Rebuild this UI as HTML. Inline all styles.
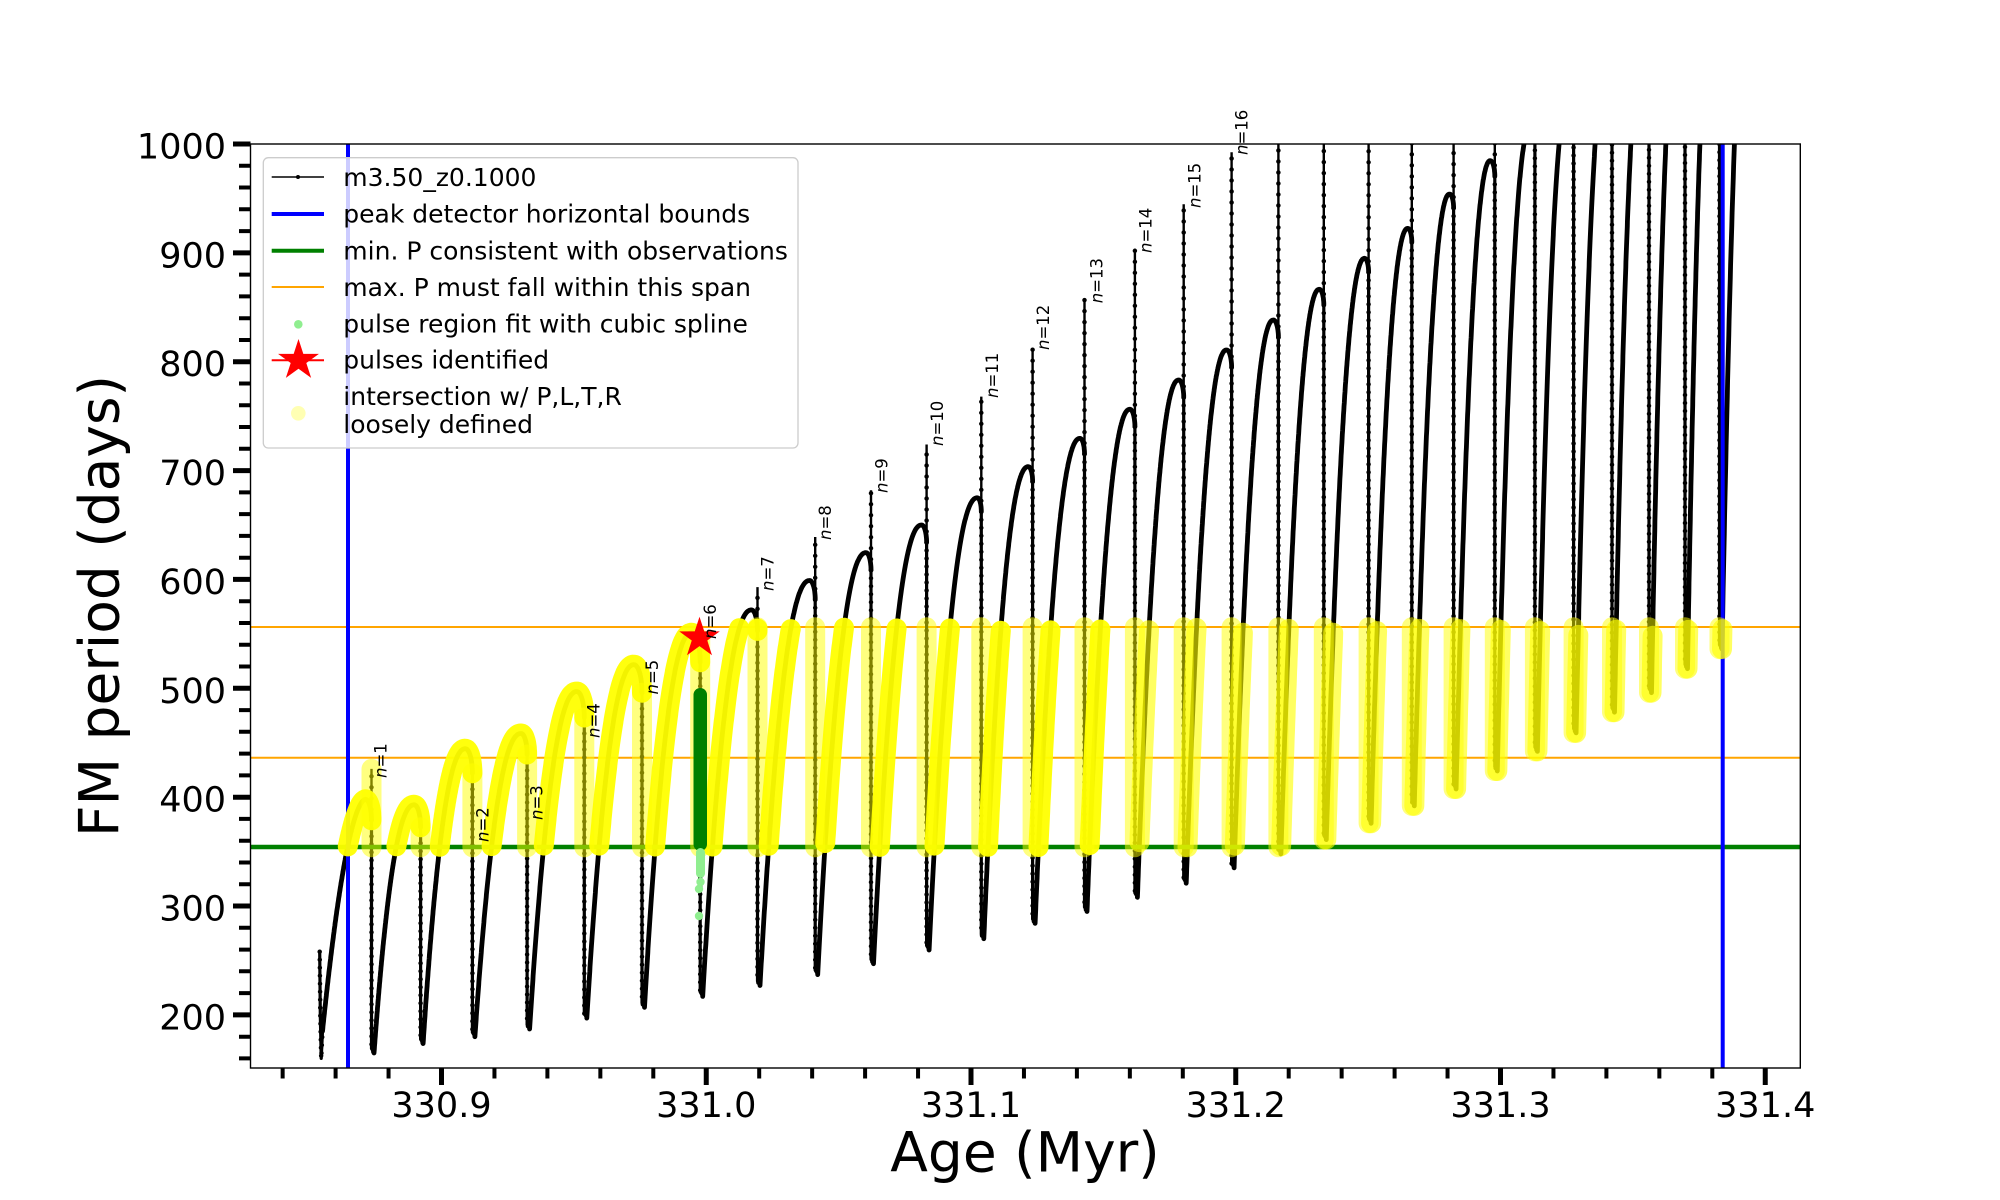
<!DOCTYPE html>
<html>
<head>
<meta charset="utf-8">
<style>
html,body{margin:0;padding:0;background:#fff;}
svg{display:block;}
</style>
</head>
<body>
<svg id="plot" width="2000" height="1200" xmlns="http://www.w3.org/2000/svg" font-family="'DejaVu Sans','Liberation Sans',sans-serif">
<defs>
<clipPath id="ax"><rect x="250.5" y="144" width="1549.8" height="924"/></clipPath>
</defs>
<rect x="0" y="0" width="2000" height="1200" fill="#fff"/>
<g clip-path="url(#ax)">
  <line x1="250" y1="627" x2="1801" y2="627" stroke="#ffa500" stroke-width="2"/>
  <line x1="250" y1="757.8" x2="1801" y2="757.8" stroke="#ffa500" stroke-width="2"/>
  <g id="gblack"></g>
  <line x1="250" y1="847" x2="1801" y2="847" stroke="#008000" stroke-width="4.5"/>
  <line x1="348" y1="140" x2="348" y2="1070" stroke="#0000ff" stroke-width="4"/>
  <line x1="1722.7" y1="140" x2="1722.7" y2="1070" stroke="#0000ff" stroke-width="4"/>
  <g id="gyel"></g>
  <rect x="693.5" y="688" width="13.5" height="163" rx="6.7" fill="#008000"/>
  <rect x="696" y="848" width="9" height="30" rx="4.5" fill="#90ee90"/>
  <circle cx="700.5" cy="882" r="4.2" fill="#90ee90"/>
  <circle cx="699" cy="889" r="4.2" fill="#90ee90"/>
  <circle cx="699" cy="916" r="4.2" fill="#90ee90"/>
  <polygon transform="translate(699.5,638)" fill="#ff0000" points="0,-21.3 4.78,-6.59 20.26,-6.58 7.74,2.52 12.52,17.23 0,8.14 -12.52,17.23 -7.74,2.52 -20.26,-6.58 -4.78,-6.59"/>
</g>

<g font-size="16.5" fill="#000">
  <text transform="translate(386.5,778) rotate(-90)"><tspan font-style="italic">n</tspan>=1</text>
  <text transform="translate(488.5,842) rotate(-90)"><tspan font-style="italic">n</tspan>=2</text>
  <text transform="translate(542.5,820) rotate(-90)"><tspan font-style="italic">n</tspan>=3</text>
  <text transform="translate(599.5,738) rotate(-90)"><tspan font-style="italic">n</tspan>=4</text>
  <text transform="translate(658,694.5) rotate(-90)"><tspan font-style="italic">n</tspan>=5</text>
  <text transform="translate(716.2,639) rotate(-90)"><tspan font-style="italic">n</tspan>=6</text>
  <text transform="translate(773.5,591) rotate(-90)"><tspan font-style="italic">n</tspan>=7</text>
  <text transform="translate(831,540) rotate(-90)"><tspan font-style="italic">n</tspan>=8</text>
  <text transform="translate(887.5,493) rotate(-90)"><tspan font-style="italic">n</tspan>=9</text>
  <text transform="translate(943,446) rotate(-90)"><tspan font-style="italic">n</tspan>=10</text>
  <text transform="translate(997.8,398) rotate(-90)"><tspan font-style="italic">n</tspan>=11</text>
  <text transform="translate(1049.2,350) rotate(-90)"><tspan font-style="italic">n</tspan>=12</text>
  <text transform="translate(1102.5,303.3) rotate(-90)"><tspan font-style="italic">n</tspan>=13</text>
  <text transform="translate(1151.5,253) rotate(-90)"><tspan font-style="italic">n</tspan>=14</text>
  <text transform="translate(1200.5,208) rotate(-90)"><tspan font-style="italic">n</tspan>=15</text>
  <text transform="translate(1247.5,155) rotate(-90)"><tspan font-style="italic">n</tspan>=16</text>
</g>

<!-- axes frame -->
<rect x="250.5" y="144" width="1549.8" height="924" fill="none" stroke="#000" stroke-width="1.4"/>

<!-- y ticks -->
<path stroke="#000" stroke-width="5" fill="none" d="M233,144H250.5M233,252.9H250.5M233,361.7H250.5M233,470.6H250.5M233,579.4H250.5M233,688.3H250.5M233,797.2H250.5M233,906H250.5M233,1014.9H250.5"/>
<path stroke="#000" stroke-width="4" fill="none" d="M239,1058.4H250.5M239,1036.7H250.5M239,993.1H250.5M239,971.3H250.5M239,949.6H250.5M239,927.8H250.5M239,884.3H250.5M239,862.5H250.5M239,840.7H250.5M239,818.9H250.5M239,775.4H250.5M239,753.6H250.5M239,731.8H250.5M239,710.1H250.5M239,666.5H250.5M239,644.8H250.5M239,623H250.5M239,601.2H250.5M239,557.7H250.5M239,535.9H250.5M239,514.1H250.5M239,492.4H250.5M239,448.8H250.5M239,427H250.5M239,405.3H250.5M239,383.5H250.5M239,340H250.5M239,318.2H250.5M239,296.4H250.5M239,274.6H250.5M239,231.1H250.5M239,209.3H250.5M239,187.5H250.5M239,165.8H250.5"/>
<!-- x ticks -->
<path stroke="#000" stroke-width="5" fill="none" d="M441.5,1068V1085M706.25,1068V1085M971,1068V1085M1235.75,1068V1085M1500.5,1068V1085M1765.25,1068V1085"/>
<path stroke="#000" stroke-width="4" fill="none" d="M282.65,1068V1078.5M335.6,1068V1078.5M388.55,1068V1078.5M494.45,1068V1078.5M547.4,1068V1078.5M600.35,1068V1078.5M653.3,1068V1078.5M759.2,1068V1078.5M812.15,1068V1078.5M865.1,1068V1078.5M918.05,1068V1078.5M1023.95,1068V1078.5M1076.9,1068V1078.5M1129.85,1068V1078.5M1182.8,1068V1078.5M1288.7,1068V1078.5M1341.65,1068V1078.5M1394.6,1068V1078.5M1447.55,1068V1078.5M1553.45,1068V1078.5M1606.4,1068V1078.5M1659.35,1068V1078.5M1712.3,1068V1078.5"/>

<g font-size="35" fill="#000" text-anchor="end">
  <text x="226" y="158.5">1000</text>
  <text x="226" y="267.4">900</text>
  <text x="226" y="376.2">800</text>
  <text x="226" y="485.1">700</text>
  <text x="226" y="593.9">600</text>
  <text x="226" y="702.8">500</text>
  <text x="226" y="811.7">400</text>
  <text x="226" y="920.5">300</text>
  <text x="226" y="1029.4">200</text>
</g>
<g font-size="35" fill="#000" text-anchor="middle">
  <text x="441.5" y="1117">330.9</text>
  <text x="706.25" y="1117">331.0</text>
  <text x="971" y="1117">331.1</text>
  <text x="1235.75" y="1117">331.2</text>
  <text x="1500.5" y="1117">331.3</text>
  <text x="1765.25" y="1117">331.4</text>
</g>
<text x="1025" y="1171.7" font-size="55" text-anchor="middle" fill="#000">Age (Myr)</text>
<text transform="translate(118.3,606) rotate(-90)" font-size="55" text-anchor="middle" fill="#000">FM period (days)</text>

<!-- legend -->
<rect x="263.3" y="157.7" width="534.7" height="290.3" rx="5" fill="#fff" fill-opacity="0.8" stroke="#cccccc" stroke-width="1.3"/>
<line x1="271.7" y1="177" x2="324" y2="177" stroke="#000" stroke-width="1.6"/>
<circle cx="298" cy="177" r="2" fill="#000"/>
<line x1="271.7" y1="214" x2="324" y2="214" stroke="#0000ff" stroke-width="4"/>
<line x1="271.7" y1="250.7" x2="324" y2="250.7" stroke="#008000" stroke-width="4"/>
<line x1="271.7" y1="287" x2="324" y2="287" stroke="#ffa500" stroke-width="2"/>
<circle cx="298.3" cy="324.3" r="4.3" fill="#90ee90"/>
<line x1="271.7" y1="360.3" x2="324" y2="360.3" stroke="#ff0000" stroke-width="2"/>
<polygon transform="translate(298.5,360.5)" fill="#ff0000" points="0,-21.5 4.82,-6.65 20.45,-6.64 7.81,2.54 12.64,17.39 0,8.21 -12.64,17.39 -7.81,2.54 -20.45,-6.64 -4.82,-6.65"/>
<circle cx="298.3" cy="413.3" r="7.3" fill="#ffffb3"/>
<g font-size="25" fill="#000">
  <text x="343.3" y="186">m3.50_z0.1000</text>
  <text x="343.3" y="222.5">peak detector horizontal bounds</text>
  <text x="343.3" y="259.5">min. P consistent with observations</text>
  <text x="343.3" y="296">max. P must fall within this span</text>
  <text x="343.3" y="332.5">pulse region fit with cubic spline</text>
  <text x="343.3" y="368.5">pulses identified</text>
  <text x="343.3" y="405">intersection w/ P,L,T,R</text>
  <text x="343.3" y="433">loosely defined</text>
</g>
</svg>

<script>
(function(){
var NS='http://www.w3.org/2000/svg';
function Y(v){return 144+(1000-v)*1.0886;}
function f(n){return n.toFixed(1);}
var P=[371.5,420.6,472.4,527.1,584.3,642.0,700.2,757.5,815.2,871.0,926.6,981.3,1032.6,1084.5,1134.9,1183.7,1231.6,1278.4,1323.8,1368.6,1411.8,1453.6,1494.8,1534.9,1573.6,1612.0,1649.0,1685.0,1719.5];
var PK=[398,393,444.5,458.5,497,521.7,551,572,599,624.6,650,675,703.6,729.6,756.3,783.2,810.8,838.3,866.5,895,922.5,954,984.7,1016,1048,1080,1112,1144,1176];
var W=[6,6.4,7,6,7.4,8,8.4,6,5.5,5,5,4,4.3,4.5,5,5,5,5,4.5,4,4,4,4.5,4.5,4.5,4.5,4.5,4.5,4.5];
var MN=[165,173.6,180,187,197,207,217,227,237,247,259.6,270,284,295,308,321,335,348,361,376,392,407.5,424,442,459,478,496,518,536];
var SP=[426,0,359,379,454,494,545,593,639,682,724,768,812.3,856.7,902.6,944.6,992.4,1150,1150,1150,1150,1150,1150,1150,1150,1150,1150,1150,1150];
function mk(tag,attrs,parent){var e=document.createElementNS(NS,tag);for(var k in attrs)e.setAttribute(k,attrs[k]);parent.appendChild(e);return e;}
function pathD(pts){
  if(pts.length===1){return 'M'+f(pts[0][0])+','+f(Y(pts[0][1]))+'L'+f(pts[0][0]+0.01)+','+f(Y(pts[0][1]));}
  var s='';for(var i=0;i<pts.length;i++){s+=(i?'L':'M')+f(pts[i][0])+','+f(Y(pts[i][1]));}return s;}
function runs(pts){var out=[],cur=[];for(var i=0;i<pts.length;i++){var p=pts[i];if(p[1]>=354&&p[1]<=556)cur.push(p);else{if(cur.length)out.push(cur);cur=[];}}if(cur.length)out.push(cur);return out;}
var thick='',thin='',spikes='',ySolid='',ySemi='',yCol='';
thin+='M319.7,'+f(Y(258))+'L320.3,'+f(Y(200))+'L321.2,'+f(Y(160))+'L322.5,'+f(Y(185));
for(var i=0;i<P.length;i++){
  var x0=(i===0)?322.5:P[i-1]+2.5, v0=(i===0)?185:MN[i-1];
  var xk=P[i]-W[i], vk=PK[i];
  var p=(i===0)?1.8:2.2;
  var pts=[],N=160;
  for(var k=0;k<=N;k++){var t=k/N;pts.push([x0+(xk-x0)*t, v0+(vk-v0)*(1-Math.pow(1-t,p))]);}
  var capV=3.5*W[i]/1.0886;
  for(var k2=1;k2<=14;k2++){var th=k2/14*Math.PI/2;pts.push([xk+W[i]*Math.sin(th), vk-capV*(1-Math.cos(th))]);}
  thick+=pathD(pts);
  var vtop=vk-capV;
  thin+='M'+f(P[i])+','+f(Y(vtop))+'L'+f(P[i])+','+f(Y(MN[i]+4))+'L'+f(P[i]+2.5)+','+f(Y(MN[i]));
  if(SP[i]>vtop) spikes+='M'+f(P[i])+','+f(Y(vtop))+'L'+f(P[i])+','+f(Y(SP[i]));
  var rr=runs(pts);
  for(var j=0;j<rr.length;j++){ if(i<=14) ySolid+=pathD(rr[j]); else ySemi+=pathD(rr[j]); }
  var lo=Math.max(354,MN[i]), hi=Math.min(556,Math.max(vtop,SP[i]));
  if(hi>lo) yCol+='M'+f(P[i])+','+f(Y(hi))+'L'+f(P[i])+','+f(Y(lo));
}
var fx0=P[P.length-1]+2.5, fv0=MN[MN.length-1], fxk=1752, fvk=1208, fpts=[];
for(var k3=0;k3<=80;k3++){var t3=k3/80;var vv=fv0+(fvk-fv0)*(1-Math.pow(1-t3,2.2));fpts.push([fx0+(fxk-fx0)*t3,vv]);if(vv>1010)break;}
thick+=pathD(fpts);
var fr=runs(fpts);for(var j2=0;j2<fr.length;j2++) ySemi+=pathD(fr[j2]);

var gb=document.getElementById('gblack');
mk('path',{d:thick,stroke:'#000','stroke-width':'4.8',fill:'none','stroke-linejoin':'round','stroke-linecap':'round'},gb);
mk('path',{d:thin,stroke:'#000','stroke-width':'3.2',fill:'none','stroke-linejoin':'round'},gb);
mk('path',{d:thin,stroke:'#000','stroke-width':'4.5',fill:'none','stroke-linecap':'round','stroke-dasharray':'0 8'},gb);
mk('path',{d:spikes,stroke:'#000','stroke-width':'2.4',fill:'none'},gb);
mk('path',{d:spikes,stroke:'#000','stroke-width':'4.5',fill:'none','stroke-linecap':'round','stroke-dasharray':'0 11'},gb);
var gy=document.getElementById('gyel');
mk('path',{d:yCol,stroke:'#ffff00','stroke-width':'20',fill:'none','stroke-linecap':'round','stroke-opacity':'0.5'},gy);
mk('path',{d:ySemi,stroke:'#ffff00','stroke-width':'20',fill:'none','stroke-linecap':'round','stroke-linejoin':'round','stroke-opacity':'0.62'},gy);
mk('path',{d:ySolid,stroke:'#ffff00','stroke-width':'20',fill:'none','stroke-linecap':'round','stroke-linejoin':'round','stroke-opacity':'0.95'},gy);
})();
</script>
</body>
</html>
